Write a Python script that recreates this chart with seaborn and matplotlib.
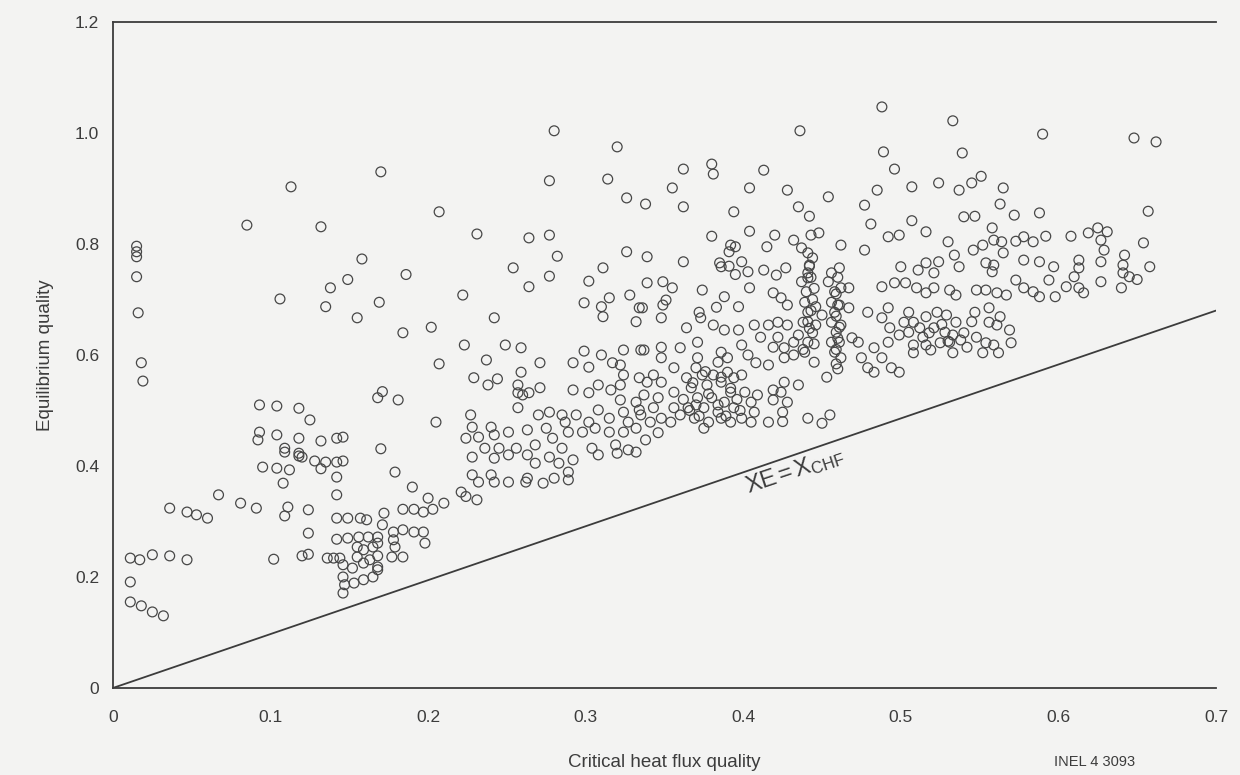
import matplotlib
matplotlib.use("Agg")
import matplotlib.pyplot as plt
import pandas as pd
import seaborn as sns

# (critical heat flux quality, equilibrium quality) pairs, grouped by region of the plot
left_edge = [
    (0.015, 0.796), (0.015, 0.786), (0.015, 0.777), (0.015, 0.741), (0.016, 0.676),
    (0.018, 0.586), (0.019, 0.553),
    (0.011, 0.234), (0.017, 0.231), (0.025, 0.240), (0.036, 0.238), (0.047, 0.231),
    (0.011, 0.191), (0.011, 0.155), (0.018, 0.148), (0.025, 0.137), (0.032, 0.130),
    (0.036, 0.324), (0.047, 0.317), (0.053, 0.312), (0.060, 0.306), (0.067, 0.348),
    (0.081, 0.333), (0.091, 0.324),
]

low_cluster = [
    (0.095, 0.398), (0.104, 0.396), (0.112, 0.393), (0.108, 0.369), (0.111, 0.326),
    (0.109, 0.310), (0.124, 0.321), (0.124, 0.279), (0.102, 0.232), (0.120, 0.238),
    (0.124, 0.241), (0.118, 0.418), (0.120, 0.416), (0.128, 0.409), (0.132, 0.395),
    (0.135, 0.407), (0.142, 0.407), (0.146, 0.409), (0.142, 0.380), (0.142, 0.348),
    (0.142, 0.306), (0.149, 0.306), (0.157, 0.306), (0.161, 0.303), (0.109, 0.425),
    (0.142, 0.268), (0.149, 0.270), (0.156, 0.272), (0.162, 0.272), (0.136, 0.234),
    (0.140, 0.234), (0.144, 0.234), (0.146, 0.222), (0.146, 0.200), (0.152, 0.216),
    (0.155, 0.236), (0.159, 0.249), (0.155, 0.254), (0.159, 0.225), (0.163, 0.231),
    (0.165, 0.254), (0.147, 0.186), (0.146, 0.171), (0.153, 0.189), (0.159, 0.195),
    (0.165, 0.200), (0.168, 0.213), (0.168, 0.272),
    (0.093, 0.510), (0.104, 0.508), (0.118, 0.504), (0.125, 0.483), (0.093, 0.461),
    (0.092, 0.447), (0.104, 0.456), (0.118, 0.450), (0.132, 0.445), (0.142, 0.450),
    (0.146, 0.452), (0.109, 0.432), (0.118, 0.423),
]

upper_left = [
    (0.113, 0.903), (0.085, 0.834), (0.132, 0.831), (0.158, 0.773), (0.170, 0.930),
    (0.149, 0.736), (0.106, 0.701), (0.138, 0.721), (0.135, 0.687), (0.155, 0.667),
    (0.169, 0.695), (0.186, 0.745), (0.207, 0.858), (0.184, 0.640), (0.202, 0.650),
]

mid_left = [
    (0.168, 0.523), (0.171, 0.534), (0.181, 0.519), (0.170, 0.431),
    (0.179, 0.389), (0.190, 0.362), (0.200, 0.342), (0.210, 0.333), (0.221, 0.353),
    (0.224, 0.345), (0.231, 0.339), (0.184, 0.322), (0.191, 0.322), (0.197, 0.317),
    (0.203, 0.322), (0.172, 0.315), (0.171, 0.294), (0.178, 0.281), (0.184, 0.285),
    (0.191, 0.281), (0.197, 0.281), (0.198, 0.261), (0.178, 0.267), (0.179, 0.254),
    (0.177, 0.236), (0.184, 0.236), (0.168, 0.238), (0.168, 0.218), (0.168, 0.261),
    (0.207, 0.584), (0.205, 0.479), (0.222, 0.708), (0.242, 0.667), (0.223, 0.618),
    (0.249, 0.618), (0.259, 0.613), (0.237, 0.591), (0.271, 0.586), (0.259, 0.569),
    (0.229, 0.559), (0.238, 0.546), (0.244, 0.557), (0.257, 0.546), (0.257, 0.532),
    (0.264, 0.532), (0.271, 0.541), (0.257, 0.505), (0.227, 0.492), (0.260, 0.528),
]

upper_mid = [
    (0.231, 0.818), (0.264, 0.811), (0.277, 0.816), (0.282, 0.778), (0.254, 0.757),
    (0.277, 0.742), (0.280, 1.004), (0.320, 0.975), (0.277, 0.914), (0.314, 0.917),
    (0.326, 0.883), (0.338, 0.872), (0.326, 0.786), (0.311, 0.757), (0.302, 0.733),
    (0.264, 0.723), (0.299, 0.694), (0.315, 0.703), (0.310, 0.687), (0.311, 0.669),
    (0.328, 0.708), (0.334, 0.685), (0.332, 0.660),
]

middle = [
    (0.299, 0.607), (0.292, 0.586), (0.302, 0.578), (0.310, 0.600), (0.317, 0.586),
    (0.324, 0.609), (0.335, 0.609), (0.322, 0.582), (0.324, 0.564), (0.322, 0.546),
    (0.334, 0.559), (0.292, 0.537), (0.302, 0.532), (0.308, 0.546), (0.316, 0.537),
    (0.322, 0.519), (0.332, 0.515),
    (0.228, 0.470), (0.224, 0.450), (0.232, 0.452), (0.240, 0.470), (0.242, 0.456),
    (0.251, 0.461), (0.263, 0.465), (0.270, 0.492), (0.277, 0.497), (0.285, 0.492),
    (0.287, 0.479), (0.294, 0.492), (0.302, 0.479), (0.308, 0.501), (0.315, 0.486),
    (0.324, 0.497), (0.327, 0.479), (0.334, 0.501), (0.275, 0.468), (0.279, 0.450),
    (0.289, 0.461), (0.298, 0.461), (0.306, 0.468), (0.315, 0.461), (0.324, 0.461),
    (0.332, 0.468), (0.236, 0.432), (0.245, 0.432), (0.256, 0.432), (0.268, 0.438),
    (0.285, 0.432), (0.304, 0.432), (0.319, 0.438), (0.327, 0.429), (0.338, 0.447),
    (0.346, 0.460),
]

lower_mid = [
    (0.228, 0.416), (0.228, 0.384), (0.232, 0.371), (0.240, 0.384), (0.242, 0.371),
    (0.251, 0.371), (0.262, 0.371), (0.263, 0.378), (0.273, 0.369), (0.280, 0.378),
    (0.289, 0.375), (0.289, 0.389), (0.283, 0.405), (0.292, 0.411), (0.242, 0.414),
    (0.251, 0.420), (0.263, 0.420), (0.268, 0.405), (0.277, 0.416), (0.308, 0.420),
    (0.320, 0.423), (0.332, 0.425),
]

upper_center = [
    (0.436, 1.004), (0.488, 1.047), (0.489, 0.966), (0.496, 0.935), (0.362, 0.935),
    (0.380, 0.944), (0.381, 0.926), (0.413, 0.933), (0.355, 0.901), (0.404, 0.901),
    (0.428, 0.897), (0.454, 0.885), (0.485, 0.897), (0.362, 0.867), (0.394, 0.858),
    (0.435, 0.867), (0.442, 0.850), (0.477, 0.870), (0.481, 0.836), (0.507, 0.903),
    (0.380, 0.814), (0.404, 0.823), (0.420, 0.816), (0.432, 0.807), (0.443, 0.816),
    (0.448, 0.820), (0.462, 0.798), (0.477, 0.789), (0.492, 0.813), (0.499, 0.816),
    (0.339, 0.777), (0.362, 0.768), (0.392, 0.798), (0.395, 0.795), (0.391, 0.786),
    (0.415, 0.795), (0.437, 0.793), (0.385, 0.766), (0.386, 0.759), (0.399, 0.768),
    (0.403, 0.750), (0.413, 0.753), (0.427, 0.757), (0.441, 0.784), (0.444, 0.775),
    (0.442, 0.762), (0.441, 0.748), (0.441, 0.739), (0.456, 0.748), (0.461, 0.757),
    (0.500, 0.759), (0.507, 0.842), (0.391, 0.760), (0.395, 0.745),
]

upper_right = [
    (0.533, 1.022), (0.590, 0.998), (0.648, 0.991), (0.662, 0.984), (0.539, 0.964),
    (0.524, 0.910), (0.537, 0.897), (0.545, 0.910), (0.551, 0.922), (0.565, 0.901),
    (0.563, 0.872), (0.572, 0.852), (0.588, 0.856), (0.516, 0.822), (0.540, 0.849),
    (0.547, 0.850), (0.657, 0.859), (0.558, 0.829), (0.530, 0.804), (0.534, 0.780),
    (0.546, 0.789), (0.552, 0.798), (0.559, 0.807), (0.564, 0.804), (0.565, 0.784),
    (0.573, 0.805), (0.578, 0.813), (0.584, 0.804), (0.592, 0.814), (0.608, 0.814),
    (0.619, 0.820), (0.625, 0.829), (0.631, 0.822), (0.627, 0.807), (0.629, 0.789),
    (0.627, 0.768), (0.654, 0.802), (0.642, 0.780), (0.641, 0.762), (0.641, 0.748),
    (0.658, 0.759), (0.511, 0.753), (0.516, 0.766), (0.524, 0.768), (0.521, 0.748),
    (0.537, 0.759), (0.554, 0.766), (0.559, 0.762), (0.558, 0.750), (0.578, 0.771),
    (0.588, 0.768), (0.597, 0.759), (0.613, 0.771), (0.613, 0.757), (0.610, 0.741),
    (0.645, 0.741), (0.650, 0.736),
]

dense_center = [
    (0.339, 0.730), (0.349, 0.732), (0.355, 0.721), (0.351, 0.699), (0.349, 0.690),
    (0.348, 0.667), (0.336, 0.685), (0.374, 0.717), (0.388, 0.705), (0.383, 0.686),
    (0.397, 0.687), (0.404, 0.721), (0.372, 0.677), (0.373, 0.667), (0.364, 0.649),
    (0.388, 0.645), (0.397, 0.645), (0.407, 0.654), (0.419, 0.712), (0.424, 0.703),
    (0.421, 0.744), (0.428, 0.690), (0.437, 0.732), (0.440, 0.714), (0.439, 0.695),
    (0.441, 0.677), (0.438, 0.659), (0.442, 0.648), (0.435, 0.636), (0.441, 0.623),
    (0.439, 0.605), (0.445, 0.587), (0.454, 0.732), (0.458, 0.714), (0.456, 0.695),
    (0.458, 0.677), (0.456, 0.659), (0.459, 0.641), (0.456, 0.623), (0.458, 0.605),
    (0.459, 0.584), (0.453, 0.560), (0.462, 0.721), (0.461, 0.690), (0.462, 0.654),
    (0.461, 0.623), (0.450, 0.672), (0.446, 0.654), (0.446, 0.687), (0.432, 0.623),
    (0.428, 0.654), (0.422, 0.659), (0.416, 0.654), (0.411, 0.632), (0.422, 0.632),
    (0.419, 0.614), (0.426, 0.613), (0.432, 0.600), (0.426, 0.595), (0.403, 0.600),
    (0.408, 0.586), (0.416, 0.582), (0.467, 0.685), (0.469, 0.631), (0.467, 0.721),
    (0.479, 0.677), (0.473, 0.623), (0.475, 0.595), (0.479, 0.577), (0.483, 0.613),
    (0.488, 0.667), (0.492, 0.685), (0.488, 0.723), (0.496, 0.730), (0.503, 0.730),
    (0.493, 0.649), (0.499, 0.636), (0.502, 0.659), (0.492, 0.623), (0.488, 0.595),
    (0.494, 0.577), (0.499, 0.569), (0.483, 0.569),
    (0.381, 0.654), (0.371, 0.623), (0.386, 0.605), (0.390, 0.595), (0.399, 0.618),
    (0.384, 0.587), (0.371, 0.595), (0.360, 0.613), (0.356, 0.577), (0.348, 0.614),
    (0.348, 0.595), (0.337, 0.609), (0.343, 0.564), (0.348, 0.551), (0.339, 0.551),
    (0.337, 0.528), (0.346, 0.523), (0.343, 0.505), (0.335, 0.492), (0.348, 0.486),
    (0.356, 0.533), (0.356, 0.505), (0.360, 0.492), (0.364, 0.559), (0.367, 0.541),
    (0.370, 0.577), (0.374, 0.564), (0.371, 0.523), (0.377, 0.546), (0.381, 0.564),
    (0.386, 0.551), (0.390, 0.569), (0.394, 0.559), (0.399, 0.564), (0.365, 0.505),
    (0.369, 0.486), (0.375, 0.505), (0.380, 0.523), (0.384, 0.497), (0.388, 0.515),
    (0.392, 0.533), (0.394, 0.505), (0.378, 0.479), (0.386, 0.486), (0.392, 0.479),
    (0.375, 0.468), (0.401, 0.533), (0.405, 0.515), (0.409, 0.528), (0.399, 0.486),
    (0.405, 0.479), (0.416, 0.479), (0.407, 0.497), (0.419, 0.537), (0.419, 0.519),
    (0.426, 0.551), (0.424, 0.533), (0.428, 0.515), (0.425, 0.497), (0.435, 0.546),
    (0.441, 0.486), (0.450, 0.477), (0.455, 0.492), (0.354, 0.479), (0.341, 0.479),
    (0.425, 0.480), (0.362, 0.520), (0.366, 0.500), (0.372, 0.490), (0.378, 0.530),
    (0.384, 0.510), (0.389, 0.490), (0.392, 0.540), (0.386, 0.560), (0.376, 0.570),
    (0.368, 0.550), (0.398, 0.500), (0.396, 0.520), (0.370, 0.510),
    (0.442, 0.760), (0.443, 0.740), (0.445, 0.720), (0.444, 0.700), (0.443, 0.680),
    (0.441, 0.660), (0.444, 0.640), (0.445, 0.620), (0.438, 0.610), (0.460, 0.740),
    (0.459, 0.710), (0.460, 0.690), (0.459, 0.670), (0.461, 0.650), (0.460, 0.630),
    (0.459, 0.610), (0.462, 0.595), (0.460, 0.575),
]

right_cluster = [
    (0.510, 0.721), (0.516, 0.712), (0.521, 0.721), (0.531, 0.717), (0.535, 0.708),
    (0.548, 0.717), (0.554, 0.717), (0.561, 0.712), (0.567, 0.708), (0.573, 0.735),
    (0.578, 0.721), (0.584, 0.714), (0.588, 0.705), (0.594, 0.735), (0.598, 0.705),
    (0.605, 0.723), (0.613, 0.721), (0.616, 0.712), (0.627, 0.732), (0.640, 0.721),
    (0.547, 0.677), (0.556, 0.685), (0.563, 0.669), (0.556, 0.659), (0.561, 0.654),
    (0.569, 0.645), (0.570, 0.622), (0.548, 0.632), (0.554, 0.622), (0.559, 0.618),
    (0.562, 0.604), (0.552, 0.604), (0.533, 0.604), (0.542, 0.614), (0.505, 0.677),
    (0.508, 0.659), (0.512, 0.649), (0.505, 0.641), (0.516, 0.669), (0.523, 0.677),
    (0.529, 0.672), (0.535, 0.659), (0.521, 0.649), (0.528, 0.641), (0.533, 0.636),
    (0.538, 0.627), (0.514, 0.632), (0.508, 0.618), (0.516, 0.618), (0.525, 0.622),
    (0.531, 0.623), (0.508, 0.604), (0.519, 0.609), (0.526, 0.655), (0.540, 0.640),
    (0.545, 0.660), (0.530, 0.625), (0.518, 0.640),
]

# reference line XE = X_CHF
line_x = [0.0, 0.7]
line_y = [0.0, 0.68]

x_ticks = [0.0, 0.1, 0.2, 0.3, 0.4, 0.5, 0.6, 0.7]
x_tick_labels = ["0", "0.1", "0.2", "0.3", "0.4", "0.5", "0.6", "0.7"]
y_ticks = [0.0, 0.2, 0.4, 0.6, 0.8, 1.0, 1.2]
y_tick_labels = ["0", "0.2", "0.4", "0.6", "0.8", "1.0", "1.2"]

groups = [left_edge, low_cluster, upper_left, mid_left, upper_mid, middle,
          lower_mid, upper_center, upper_right, dense_center, right_cluster]
df = pd.DataFrame([p for g in groups for p in g], columns=["xchf", "xe"])

paper = "#f3f3f2"
ink = "#3c3c3c"

sns.set_theme(style="white")
plt.rcParams["font.family"] = ["Liberation Sans", "DejaVu Sans"]
plt.rcParams["mathtext.fontset"] = "custom"
plt.rcParams["mathtext.rm"] = "Liberation Sans"
plt.rcParams["mathtext.it"] = "Liberation Sans"

fig = plt.figure(figsize=(12.4, 7.75), dpi=100, facecolor=paper)
ax = fig.add_axes([0.0911, 0.1123, 0.8895, 0.8593])
ax.set_facecolor(paper)

sns.scatterplot(data=df, x="xchf", y="xe", ax=ax, marker="o", s=50,
                linewidth=0.9, legend=False, zorder=3)
pts = ax.collections[0]
pts.set_facecolor("none")
pts.set_edgecolor("#474747")

sns.lineplot(x=line_x, y=line_y, ax=ax, color=ink, linewidth=1.3, zorder=2)

ax.text(0.433, 0.392, r"XE$\,$=$\,$X$_{\mathrm{CHF}}$", rotation=18.5,
        rotation_mode="anchor", ha="center", va="center", fontsize=17, color=ink)

ax.set_xlim(0, 0.7)
ax.set_ylim(0, 1.2)
ax.set_xticks(x_ticks)
ax.set_xticklabels(x_tick_labels)
ax.set_yticks(y_ticks)
ax.set_yticklabels(y_tick_labels)
ax.tick_params(direction="in", length=12, width=1.1, colors=ink, labelsize=12.5)
ax.tick_params(axis="x", pad=16)
ax.tick_params(axis="y", pad=10)

for side in ("left", "bottom", "top"):
    ax.spines[side].set_visible(True)
    ax.spines[side].set_color(ink)
    ax.spines[side].set_linewidth(1.3)
ax.spines["right"].set_visible(False)

ax.set_xlabel("Critical heat flux quality", fontsize=13.5, color=ink, labelpad=21)
ax.set_ylabel("Equilibrium quality", fontsize=13.5, color=ink, labelpad=15)

fig.text(0.883, 0.017, "INEL 4 3093", fontsize=10.5, color=ink, ha="center", va="center")

fig.savefig("out.png", dpi=100, facecolor=paper)
